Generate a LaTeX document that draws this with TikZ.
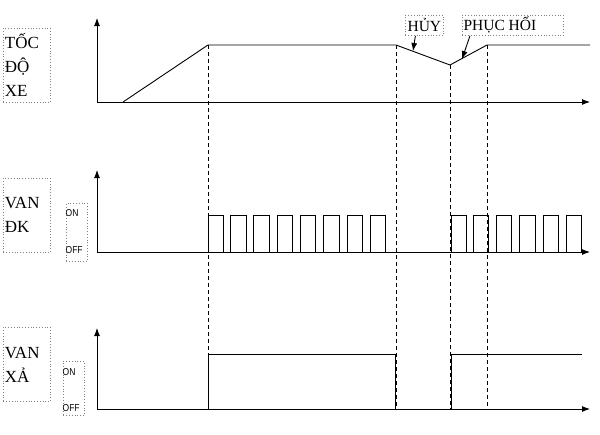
\documentclass[tikz,border=0pt]{standalone}
\usepackage{fontspec}
\setmainfont{Liberation Serif}
\newfontfamily\lblsans{Liberation Sans}
\usetikzlibrary{arrows.meta}
\begin{document}
\begin{tikzpicture}[x=1pt,y=-1pt,
  axis/.style={line width=0.9pt,-{Latex[length=8pt,width=6pt]}},
  sig/.style={line width=0.9pt},
  guide/.style={line width=0.8pt,dash pattern=on 4pt off 3pt},
  lblbox/.style={draw=gray,dotted,line width=0.8pt,anchor=north west,inner sep=1.5pt,
     text width=#1,align=left,font=\fontsize{17}{24}\selectfont},
  onoff/.style={draw=gray,dotted,line width=0.8pt,anchor=north west,inner sep=0pt},
  small/.style={font=\lblsans\fontsize{10}{10}\selectfont,inner sep=0pt,anchor=west,xscale=0.85},
  note/.style={draw=gray,dotted,line width=0.8pt,inner sep=1pt,anchor=north west,
     font=\fontsize{15.5}{16}\selectfont},
  pointer/.style={line width=0.9pt,-{Latex[length=8pt,width=6pt]}}]
\useasboundingbox (0,0) rectangle (600,434);

% ---------- labels ----------
\node[lblbox=44pt,minimum height=74pt] (tocdo) at (3,28) {TỐC\\ĐỘ\\XE};
\node[lblbox=44pt,minimum height=74pt] (vandk) at (3,178) {VAN\\ĐK};
\node[lblbox=44pt,minimum height=74pt] (vanxa) at (3,327) {VAN\\XẢ};

\node[onoff,minimum width=21pt,minimum height=58pt] (oo1) at (66,203) {};
\node[small] (on1) at (65.5,213) {ON};
\node[small] (off1) at (65.5,250) {OFF};
\node[onoff,minimum width=21pt,minimum height=54pt] (oo2) at (63,361) {};
\node[small] (on2) at (62.5,372) {ON};
\node[small] (off2) at (62.5,408) {OFF};

% ---------- axes ----------
\coordinate (o1) at (97,102); \coordinate (y1) at (97,18); \coordinate (x1) at (590,102);
\coordinate (o2) at (97,252); \coordinate (y2) at (97,170); \coordinate (x2) at (590,252);
\coordinate (o3) at (97,409); \coordinate (y3) at (97,328); \coordinate (x3) at (590,409);
\draw[axis] (o1) -- (y1);
\draw[axis] (o1) -- (x1);
\draw[axis] (o2) -- (y2);
\draw[axis] (o2) -- (x2);
\draw[axis] (o3) -- (y3);
\draw[axis] (o3) -- (x3);

% ---------- speed curve ----------
\coordinate (s0) at (123,102);
\coordinate (s1) at (208,45);
\coordinate (s2) at (396,45);
\coordinate (s3) at (450,65);
\coordinate (s4) at (487,45);
\coordinate (s5) at (590,45);
\draw[sig] (s0) -- (s1) -- (s2) -- (s3) -- (s4) -- (s5);

% ---------- dashed guides ----------
\coordinate (g1) at (208,409);
\coordinate (g2) at (396,409);
\coordinate (g3) at (450,409);
\coordinate (g4) at (487,409);
\draw[guide] (s1) -- (g1);
\draw[guide] (s2) -- (g2);
\draw[guide] (s3) -- (g3);
\draw[guide] (s4) -- (g4);

% ---------- pulses (VAN DK) ----------
\foreach \a in {208,230.5,253.5,277,300,323.5,347,370,451,473,496,519.5,543,566}{
  \draw[sig] (\a,252) -- (\a,215) -- (\a+15.5,215) -- (\a+15.5,252);
}

% ---------- VAN XA ----------
\draw[sig] (g1) -- (208,354) -- (395,354) -- (395,409);
\draw[sig] (451,409) -- (451,354) -- (582,354);

% ---------- notes ----------
\node[note,minimum width=38pt,minimum height=20pt] (huy) at (405,15) {HỦY};
\node[note,minimum width=101pt,minimum height=20pt,align=left] (phuc) at (462,15) {PHỤC HỐI\hspace{26pt}};
\coordinate (huytip) at (413,51);
\coordinate (phuctip) at (462,59);
\draw[pointer] ([xshift=-9pt]huy.south) -- (huytip);
\draw[pointer] ([xshift=8pt]phuc.south west) -- (phuctip);
\end{tikzpicture}
\end{document}
